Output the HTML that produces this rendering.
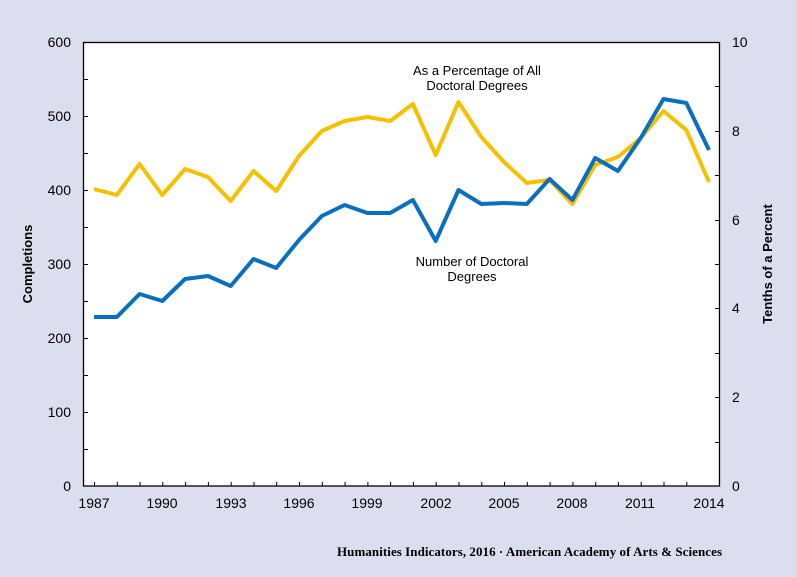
<!DOCTYPE html><html><head><style>body{margin:0;background:#dcdeef}svg{display:block}</style></head><body>
<svg width="797" height="577" xmlns="http://www.w3.org/2000/svg" font-family="Liberation Sans, Arial, sans-serif">
<rect width="797" height="577" fill="#dcdeef"/>
<rect x="83.5" y="42.5" width="636" height="443.5" fill="#fff" stroke="#000" stroke-width="1.3"/>
<g stroke="#000" stroke-width="1">
<path d="M84 79.5h4M84 116.5h4M84 153.5h4M84 190.5h4M84 227.5h4M84 264.5h4M84 301.5h4M84 338.5h4M84 375.5h4M84 412.5h4M84 449.5h4"/>
<path d="M719 86.5h-4M719 131.5h-4M719 175.5h-4M719 220.5h-4M719 264.5h-4M719 308.5h-4M719 353.5h-4M719 397.5h-4M719 442.5h-4"/>
<path d="M94.5 486v-4M117.3 486v-4M140.1 486v-4M162.8 486v-4M185.6 486v-4M208.4 486v-4M231.2 486v-4M254 486v-4M276.7 486v-4M299.5 486v-4M322.3 486v-4M345.1 486v-4M367.9 486v-4M390.6 486v-4M413.4 486v-4M436.2 486v-4M459 486v-4M481.8 486v-4M504.5 486v-4M527.3 486v-4M550.1 486v-4M572.9 486v-4M595.7 486v-4M618.4 486v-4M641.2 486v-4M664 486v-4M686.8 486v-4"/>
</g>
<g font-size="14" fill="#000" text-anchor="end">
<text x="71" y="47">600</text><text x="71" y="121">500</text><text x="71" y="195">400</text><text x="71" y="269">300</text><text x="71" y="343">200</text><text x="71" y="417">100</text><text x="71" y="491">0</text>
</g>
<g font-size="14" fill="#000" text-anchor="start">
<text x="732" y="47">10</text><text x="732" y="136">8</text><text x="732" y="225">6</text><text x="732" y="313">4</text><text x="732" y="402">2</text><text x="732" y="491">0</text>
</g>
<g font-size="14" fill="#000" text-anchor="middle">
<text x="94" y="508">1987</text><text x="162" y="508">1990</text><text x="231" y="508">1993</text><text x="299" y="508">1996</text><text x="367" y="508">1999</text><text x="436" y="508">2002</text><text x="504" y="508">2005</text><text x="572" y="508">2008</text><text x="640" y="508">2011</text><text x="709" y="508">2014</text>
</g>
<text transform="translate(32,264) rotate(-90)" font-size="13" font-weight="bold" text-anchor="middle">Completions</text>
<text transform="translate(772,264) rotate(-90)" font-size="13" font-weight="bold" text-anchor="middle">Tenths of a Percent</text>
<text x="477" y="75" font-size="13" text-anchor="middle">As a Percentage of All</text>
<text x="477" y="90" font-size="13" text-anchor="middle">Doctoral Degrees</text>
<text x="472" y="266" font-size="13" text-anchor="middle">Number of Doctoral</text>
<text x="472" y="281" font-size="13" text-anchor="middle">Degrees</text>
<text x="722" y="556" font-size="13" font-weight="bold" font-family="Liberation Serif, serif" text-anchor="end" textLength="385" lengthAdjust="spacing">Humanities Indicators, 2016 · American Academy of Arts &amp; Sciences</text>
<polyline fill="none" stroke="#f5c000" stroke-width="4" stroke-linejoin="round" points="94,189 116.8,195 139.6,164 162.3,195 185.1,169 207.9,177 230.7,201 253.5,171 276.2,191 299,156 321.8,131 344.6,121 367.4,117 390.1,121 412.9,104 435.7,155 458.5,102 481.3,137 504,162 526.8,183 549.6,180 572.4,204 595.2,165 617.9,157 640.7,138 663.5,111 686.3,130 709,182"/>
<polyline fill="none" stroke="#0b6fbf" stroke-width="4" stroke-linejoin="round" points="94,317 116.8,317 139.6,294 162.3,301 185.1,279 207.9,276 230.7,286 253.5,259 276.2,268 299,240 321.8,216 344.6,205 367.4,213 390.1,213 412.9,200 435.7,241 458.5,190 481.3,204 504,203 526.8,204 549.6,179 572.4,200 595.2,158 617.9,171 640.7,138 663.5,99 686.3,103 709,150"/>
</svg></body></html>
